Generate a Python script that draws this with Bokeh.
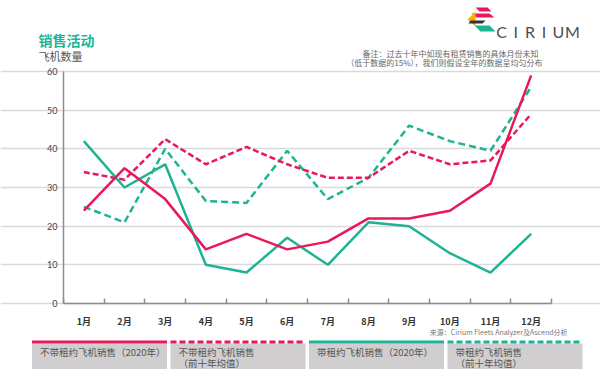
from bokeh.plotting import figure
from bokeh.models import Range1d, FixedTicker
from bokeh.embed import file_html
from bokeh.resources import INLINE
from bokeh.core.properties import value

# ---------------- data ----------------
months = ["1月", "2月", "3月", "4月", "5月", "6月", "7月", "8月", "9月", "10月", "11月", "12月"]
month_pos = list(range(1, 13))
unleased_2020 = [24, 35, 27, 14, 18, 14, 16, 22, 22, 24, 31, 59]
unleased_avg = [34, 32, 42.5, 36, 40.5, 36, 32.5, 32.5, 39.5, 36, 37, 49]
leased_2020 = [42, 30, 36, 10, 8, 17, 10, 21, 20, 13, 8, 18]
leased_avg = [25, 21, 40, 26.5, 26, 39.5, 27, 32.5, 46, 42, 39.5, 56]
y_ticks = [0, 10, 20, 30, 40, 50, 60]
legend_line1 = ["不带租约飞机销售（2020年）", "不带租约飞机销售", "带租约飞机销售（2020年）", "带租约飞机销售"]
legend_line2 = ["", "（前十年均值）", "", "（前十年均值）"]

RED = "#e8185a"
GREEN = "#1db394"
CJK = "Noto Sans CJK SC"

# ---------------- geometry (page pixels) ----------------
W, H = 600, 369
FL, FR, FT, FB = 63, 551, 71, 303          # plotting area of the chart
X0, X1, Y0, Y1 = 0.5, 12.5, 0, 60
sx = (FR - FL) / (X1 - X0)
sy = (FB - FT) / (Y1 - Y0)


def dx(px):
    return X0 + (px - FL) / sx


def dy(py):
    return Y0 + (FB - py) / sy


p = figure(width=W, height=H,
           x_range=Range1d(dx(0), dx(W)), y_range=Range1d(dy(H), dy(0)),
           output_backend="svg", toolbar_location=None, min_border=0)
p.outline_line_color = None
p.xgrid.grid_line_color = None
p.ygrid.grid_line_color = "#dadada"
p.ygrid.grid_line_width = 1.5
p.ygrid.bounds = (X0, X1)

yax = p.yaxis[0]
yax.fixed_location = X0
yax.bounds = (Y0, Y1)
yax.ticker = FixedTicker(ticks=y_ticks)
yax.major_tick_line_color = None
yax.minor_tick_line_color = None
yax.major_tick_in = 0
yax.major_tick_out = 0
yax.axis_line_color = "#8c8c8c"
yax.axis_line_width = 1.5
yax.major_label_standoff = 6
yax.major_label_text_font = "Lato"
yax.major_label_text_font_size = "9px"
yax.major_label_text_color = "#444444"

xax = p.xaxis[0]
xax.fixed_location = Y0
xax.bounds = (X0, X1)
xax.ticker = FixedTicker(ticks=month_pos, minor_ticks=[m + 0.5 for m in range(0, 13)])
xax.major_label_overrides = {m: lab for m, lab in zip(month_pos, months)}
xax.major_tick_line_color = None
xax.major_tick_in = 0
xax.major_tick_out = 0
xax.minor_tick_in = 5
xax.minor_tick_out = 0
xax.minor_tick_line_color = "#8c8c8c"
xax.minor_tick_line_width = 1.5
xax.axis_line_color = "#8c8c8c"
xax.axis_line_width = 1.5
xax.major_label_standoff = 11
xax.major_label_text_font = CJK
xax.major_label_text_font_style = "bold"
xax.major_label_text_font_size = "9px"
xax.major_label_text_color = "#333333"

p.line(month_pos, leased_avg, line_color=GREEN, line_width=2.5, line_dash="7 4")
p.line(month_pos, unleased_avg, line_color=RED, line_width=2.5, line_dash="6 3")
p.line(month_pos, leased_2020, line_color=GREEN, line_width=2.5)
p.line(month_pos, unleased_2020, line_color=RED, line_width=2.5)

# ---------------- header ----------------
p.text(x=[dx(38)], y=[dy(39)], text=["销售活动"], text_baseline="middle",
       text_font=value(CJK), text_font_size="14px", text_font_style="bold", text_color=GREEN)
p.text(x=[dx(38)], y=[dy(55)], text=["飞机数量"], text_baseline="middle",
       text_font=value(CJK), text_font_size="11px", text_color="#555555")
p.text(x=[dx(538), dx(542)], y=[dy(53), dy(62)],
       text=["备注：过去十年中如现有租赁销售的具体月份未知",
             "（低于数据的15%），我们则假设全年的数据呈均匀分布"],
       text_align="right", text_baseline="middle",
       text_font=value(CJK), text_font_size="8px", text_color="#666666")
p.text(x=[dx(567)], y=[dy(331)], text=["来源：Cirium Fleets Analyzer及Ascend分析"],
       text_align="right", text_baseline="middle",
       text_font=value(CJK), text_font_size="7px", text_color="#777777")

# CIRIUM wordmark
brand = list("CIRIUM")
p.text(x=[dx(501 + i * 14.2) for i in range(len(brand))], y=[dy(31)] * len(brand), text=brand,
       text_align="center", text_baseline="middle", text_font=value("Lato"),
       text_font_size="16px", text_color="#4d4d4d")

# logo icon (stripes)
icon = [
    ([475, 487, 491, 479], [7, 7, 11, 11], "#e8185a"),
    ([471, 489, 494, 476], [13, 13, 17, 17], "#e8185a"),
    ([467, 475, 475], [19, 11, 26], "#f5b400"),
    ([470, 485, 482, 468], [20, 20, 23, 23], "#333333"),
    ([474, 489, 495, 480], [25, 25, 31, 31], "#1db394"),
]
p.patches(xs=[[dx(v) for v in xs] for xs, _, _ in icon],
          ys=[[dy(v) for v in ys] for _, ys, _ in icon],
          fill_color=[c for _, _, c in icon], line_color=None)

# ---------------- legend strip ----------------
box_w, box_gap, lx0 = 135, 3.5, 31.5
lefts = [lx0 + i * (box_w + box_gap) for i in range(4)]
rights = [l + box_w for l in lefts]
p.quad(left=[dx(v) for v in lefts], right=[dx(v) for v in rights],
       top=dy(343), bottom=dy(H + 5), fill_color="#d0cece", line_color=None)
bar_colors = [RED, RED, GREEN, GREEN]
bar_dash = ["solid", "6 3", "solid", "6 3"]
for l, r, c, d in zip(lefts, rights, bar_colors, bar_dash):
    p.segment(x0=dx(l), y0=dy(341.5), x1=dx(r), y1=dy(341.5),
              line_color=c, line_width=3, line_dash=d)
p.text(x=[dx(l + 8) for l in lefts], y=dy(351), text=legend_line1, text_baseline="middle",
       text_font=value(CJK), text_font_size="9.5px", text_color="#555555")
p.text(x=[dx(l + 8) for l in lefts], y=dy(362), text=legend_line2, text_baseline="middle",
       text_font=value(CJK), text_font_size="9.5px", text_color="#555555")

open("out.html", "w").write(file_html(p, INLINE))
